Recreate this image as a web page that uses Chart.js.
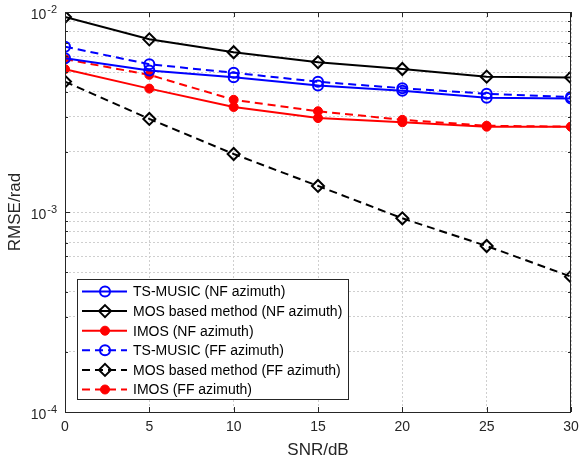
<!DOCTYPE html>
<html>
<head>
<meta charset="utf-8">
<title>RMSE vs SNR</title>
<script src="https://cdn.jsdelivr.net/npm/chart.js@4.4.1/dist/chart.umd.min.js"></script>
<style>
    body { margin: 0; background: #fff; }
    canvas { display: block; }
</style>
</head>
<body>
<canvas id="rmse-chart" width="579" height="463"></canvas>
<script>
// SNR points (dB)
const snr = [0, 5, 10, 15, 20, 25, 30];

// RMSE values (rad)
const tsMusicNF = [0.00587, 0.00510, 0.00472, 0.00429, 0.00404, 0.00373, 0.00369];
const mosNF     = [0.00944, 0.00730, 0.00629, 0.00561, 0.00519, 0.00475, 0.00471];
const imosNF    = [0.00518, 0.00414, 0.00335, 0.00295, 0.00281, 0.00267, 0.00267];
const tsMusicFF = [0.00671, 0.00548, 0.00497, 0.00448, 0.00416, 0.00390, 0.00376];
const mosFF     = [0.00449, 0.00292, 0.00195, 0.00135, 0.00093, 0.000676, 0.000475];
const imosFF    = [0.00581, 0.00485, 0.00364, 0.00319, 0.00289, 0.00270, 0.00267];

const seriesNames = [
    'TS-MUSIC (NF azimuth)',
    'MOS based method (NF azimuth)',
    'IMOS (NF azimuth)',
    'TS-MUSIC (FF azimuth)',
    'MOS based method (FF azimuth)',
    'IMOS (FF azimuth)'
];

// axis ticks
const xTicks = [0, 5, 10, 15, 20, 25, 30];
const yDecades = [1e-4, 1e-3, 1e-2];

const FONT = '"Liberation Sans", Arial, sans-serif';
const TEXT = '#262626';
const GRID = '#cfcfcf';

// log grid: 1..9 x each decade
const yGrid = [];
[1e-4, 1e-3].forEach(d => {
    for (let k = 1; k < 10; k++) yGrid.push(+(k * d).toPrecision(3));
});
yGrid.push(1e-2);

const toPoints = arr => snr.map((x, i) => ({ x: x, y: arr[i] }));

function makeSet(label, values, color, marker, dashed) {
    const set = {
        label: label,
        data: toPoints(values),
        borderColor: color,
        borderWidth: 2,
        borderDash: dashed ? [8, 5] : [],
        pointBorderColor: color,
        pointBorderWidth: 2,
        pointHoverRadius: 5,
        tension: 0
    };
    if (marker === 'circle') {
        set.pointStyle = 'circle';
        set.pointRadius = 5;
        set.pointBackgroundColor = 'rgba(0,0,0,0)';
    } else if (marker === 'diamond') {
        set.pointStyle = 'rectRot';
        set.pointRadius = 6;
        set.pointBackgroundColor = 'rgba(0,0,0,0)';
    } else {
        set.pointStyle = 'circle';
        set.pointRadius = 4.5;
        set.pointBorderWidth = 1;
        set.pointBackgroundColor = color;
    }
    set.marker = marker;
    return set;
}

const datasets = [
    makeSet(seriesNames[0], tsMusicNF, '#0000ff', 'circle', false),
    makeSet(seriesNames[1], mosNF, '#000000', 'diamond', false),
    makeSet(seriesNames[2], imosNF, '#ff0000', 'dot', false),
    makeSet(seriesNames[3], tsMusicFF, '#0000ff', 'circle', true),
    makeSet(seriesNames[4], mosFF, '#000000', 'diamond', true),
    makeSet(seriesNames[5], imosFF, '#ff0000', 'dot', true)
];

function drawMarker(ctx, set, x, y) {
    ctx.save();
    ctx.setLineDash([]);
    ctx.strokeStyle = set.borderColor;
    ctx.fillStyle = set.pointBackgroundColor;
    ctx.lineWidth = set.pointBorderWidth;
    ctx.beginPath();
    if (set.marker === 'diamond') {
        const r = set.pointRadius;
        ctx.moveTo(x, y - r);
        ctx.lineTo(x + r, y);
        ctx.lineTo(x, y + r);
        ctx.lineTo(x - r, y);
        ctx.closePath();
    } else {
        ctx.arc(x, y, set.pointRadius, 0, Math.PI * 2);
    }
    ctx.fill();
    ctx.stroke();
    ctx.restore();
}

// MATLAB style box, inward ticks, superscript y labels and inset legend
const axesBox = {
    id: 'axesBox',
    afterDatasetsDraw(chart) {
        const { ctx, chartArea: a, scales } = chart;
        ctx.save();
        ctx.strokeStyle = TEXT;
        ctx.lineWidth = 1;
        ctx.setLineDash([]);

        ctx.beginPath();
        xTicks.forEach(v => {
            const px = Math.round(scales.x.getPixelForValue(v)) + 0.5;
            ctx.moveTo(px, a.bottom);
            ctx.lineTo(px, a.bottom - 5);
            ctx.moveTo(px, a.top);
            ctx.lineTo(px, a.top + 5);
        });
        yGrid.forEach(v => {
            const py = Math.round(scales.y.getPixelForValue(v)) + 0.5;
            const len = yDecades.includes(v) ? 5 : 3;
            ctx.moveTo(a.left, py);
            ctx.lineTo(a.left + len, py);
            ctx.moveTo(a.right, py);
            ctx.lineTo(a.right - len, py);
        });
        ctx.stroke();

        ctx.strokeRect(Math.round(a.left) + 0.5, Math.round(a.top) + 0.5,
            Math.round(a.right - a.left) - 1, Math.round(a.bottom - a.top));

        // y labels as 10^n
        ctx.fillStyle = TEXT;
        ctx.textAlign = 'right';
        ctx.textBaseline = 'alphabetic';
        yDecades.forEach(v => {
            const py = scales.y.getPixelForValue(v);
            const exp = String(Math.round(Math.log10(v)));
            const xr = a.left - 8;
            ctx.font = '11px ' + FONT;
            const w = ctx.measureText(exp).width;
            ctx.fillText(exp, xr, py + 1);
            ctx.font = '14px ' + FONT;
            ctx.fillText('10', xr - w - 1, py + 7);
        });

        // legend
        const lx = a.left + 12;
        const lw = 271;
        const lh = 120;
        const ly = a.bottom - 13 - lh;
        ctx.fillStyle = '#fff';
        ctx.fillRect(lx, ly, lw, lh);
        ctx.strokeStyle = TEXT;
        ctx.strokeRect(lx + 0.5, ly + 0.5, lw, lh);

        ctx.font = '14px ' + FONT;
        ctx.textAlign = 'left';
        ctx.textBaseline = 'middle';
        chart.data.datasets.forEach((set, i) => {
            const ry = ly + 12.5 + i * 19.6;
            ctx.strokeStyle = set.borderColor;
            ctx.lineWidth = set.borderWidth;
            ctx.setLineDash(set.borderDash);
            ctx.beginPath();
            ctx.moveTo(lx + 5, ry);
            ctx.lineTo(lx + 50, ry);
            ctx.stroke();
            drawMarker(ctx, set, lx + 28, ry);
            ctx.fillStyle = '#000';
            ctx.fillText(set.label, lx + 56, ry + 1);
        });
        ctx.restore();
    }
};

const rmseChart = new Chart(document.getElementById('rmse-chart').getContext('2d'), {
    type: 'line',
    data: { datasets: datasets },
    options: {
        responsive: false,
        animation: false,
        events: [],
        layout: { padding: { top: 12, right: 6, left: 0, bottom: 0 } },
        plugins: {
            legend: { display: false },
            tooltip: { enabled: false }
        },
        scales: {
            x: {
                type: 'linear',
                min: 0,
                max: 30,
                afterBuildTicks: scale => {
                    scale.ticks = xTicks.map(v => ({ value: v }));
                },
                afterFit: scale => {
                    scale.height = 51;
                    scale.paddingLeft = 0;
                    scale.paddingRight = 0;
                },
                ticks: {
                    color: TEXT,
                    font: { family: FONT, size: 14 },
                    padding: 7,
                    maxRotation: 0
                },
                grid: { color: GRID, lineWidth: 1, drawTicks: false },
                border: { display: false, dash: [2, 2] },
                title: {
                    display: true,
                    text: 'SNR/dB',
                    color: TEXT,
                    font: { family: FONT, size: 17 },
                    padding: { top: 0, bottom: 2 }
                }
            },
            y: {
                type: 'logarithmic',
                min: 1e-4,
                max: 1e-2,
                afterBuildTicks: scale => {
                    scale.ticks = yGrid.map(v => ({ value: v }));
                },
                afterFit: scale => {
                    scale.width = 65;
                    scale.paddingTop = 0;
                    scale.paddingBottom = 0;
                },
                ticks: { display: false },
                grid: { color: GRID, lineWidth: 1, drawTicks: false },
                border: { display: false, dash: [2, 2] },
                title: {
                    display: true,
                    text: 'RMSE/rad',
                    color: TEXT,
                    font: { family: FONT, size: 17 },
                    padding: { top: 5, bottom: 0 }
                }
            }
        }
    },
    plugins: [axesBox]
});
</script>
</body>
</html>
